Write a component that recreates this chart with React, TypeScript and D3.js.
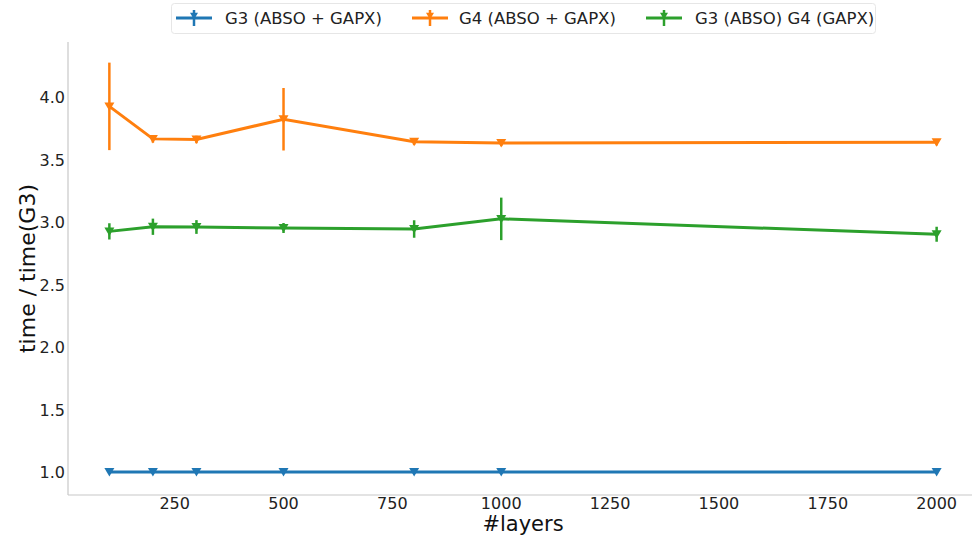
import React from "react";
import * as d3 from "d3";

const layers = [100, 200, 300, 500, 800, 1000, 2000];
const g3Both = [1.0, 1.0, 1.0, 1.0, 1.0, 1.0, 1.0];
const g3BothErr = [0, 0, 0, 0, 0, 0, 0];
const g4Both = [3.925, 3.665, 3.66, 3.822, 3.642, 3.632, 3.638];
const g4BothErr = [0.35, 0.03, 0.03, 0.25, 0.025, 0.025, 0.025];
const g3g4 = [2.925, 2.962, 2.96, 2.952, 2.944, 3.025, 2.902];
const g3g4Err = [0.065, 0.065, 0.055, 0.04, 0.07, 0.17, 0.06];
const xTicks = [250, 500, 750, 1000, 1250, 1500, 1750, 2000];
const yTicks = [1.0, 1.5, 2.0, 2.5, 3.0, 3.5, 4.0];
const seriesNames = ["G3 (ABSO + GAPX)", "G4 (ABSO + GAPX)", "G3 (ABSO) G4 (GAPX)"];
const colors = ["#1f77b4", "#ff7f0e", "#2ca02c"];

const W = 972;
const H = 537;
const left = 68;
const right = 978;
const top = 42;
const bottom = 495;
const font = "DejaVu Sans, sans-serif";

export default function App() {
  const x = d3.scaleLinear().domain([5, 2095]).range([left, right]);
  const y = d3.scaleLinear().domain([0.816, 4.44]).range([bottom, top]);
  const line = d3
    .line<[number, number]>()
    .x((d) => x(d[0]))
    .y((d) => y(d[1]));
  const series = [
    { vals: g3Both, errs: g3BothErr },
    { vals: g4Both, errs: g4BothErr },
    { vals: g3g4, errs: g3g4Err },
  ];
  const tri = (cx: number, cy: number, s: number) =>
    `M${cx - s},${cy - s * 0.8}L${cx + s},${cy - s * 0.8}L${cx},${cy + s * 0.9}Z`;

  const legendItems = [
    { hx: 176, tx: 225 },
    { hx: 412, tx: 459 },
    { hx: 646, tx: 695 },
  ];

  return (
    <svg
      width={W}
      height={H}
      style={{ position: "absolute", left: 0, top: 0, background: "#fff" }}
      fontFamily={font}
    >
      <rect x={0} y={0} width={W} height={H} fill="#fff" />
      {/* spines */}
      <line x1={left} y1={top} x2={left} y2={bottom} stroke="#c8c8c8" strokeWidth={1.2} />
      <line x1={left} y1={bottom} x2={right} y2={bottom} stroke="#c8c8c8" strokeWidth={1.2} />
      {/* ticks */}
      {xTicks.map((t) => (
        <text key={t} x={x(t)} y={bottom + 14} textAnchor="middle" fontSize={16} fill="#222">
          {t}
        </text>
      ))}
      {yTicks.map((t) => (
        <text key={t} x={left - 3} y={y(t) + 6} textAnchor="end" fontSize={16} fill="#222">
          {t.toFixed(1)}
        </text>
      ))}
      <text x={(left + right) / 2} y={531} textAnchor="middle" fontSize={21} fill="#111">
        #layers
      </text>
      <text
        transform={`translate(35,${(top + bottom) / 2}) rotate(-90)`}
        textAnchor="middle"
        fontSize={22}
        fill="#111"
      >
        time / time(G3)
      </text>
      {/* series */}
      {series.map((s, i) => {
        const pts = layers.map((l, j) => [l, s.vals[j]] as [number, number]);
        return (
          <g key={i}>
            <path d={line(pts) || ""} fill="none" stroke={colors[i]} strokeWidth={3} />
            {layers.map((l, j) =>
              s.errs[j] > 0 ? (
                <line
                  key={"e" + j}
                  x1={x(l)}
                  x2={x(l)}
                  y1={y(s.vals[j] - s.errs[j])}
                  y2={y(s.vals[j] + s.errs[j])}
                  stroke={colors[i]}
                  strokeWidth={2.5}
                />
              ) : null
            )}
            {layers.map((l, j) => (
              <path key={"m" + j} d={tri(x(l), y(s.vals[j]), 5)} fill={colors[i]} />
            ))}
          </g>
        );
      })}
      {/* legend */}
      <rect x={171.5} y={3.5} width={704} height={30} rx={3} fill="#fff" stroke="#e6e6e6" />
      {legendItems.map((it, i) => (
        <g key={i}>
          <line x1={it.hx} x2={it.hx + 36} y1={18} y2={18} stroke={colors[i]} strokeWidth={3} />
          <line x1={it.hx + 18} x2={it.hx + 18} y1={10} y2={26} stroke={colors[i]} strokeWidth={2.5} />
          <path d={tri(it.hx + 18, 16, 4)} fill={colors[i]} />
          <text x={it.tx} y={24} fontSize={16.5} fill="#222">
            {seriesNames[i]}
          </text>
        </g>
      ))}
    </svg>
  );
}
